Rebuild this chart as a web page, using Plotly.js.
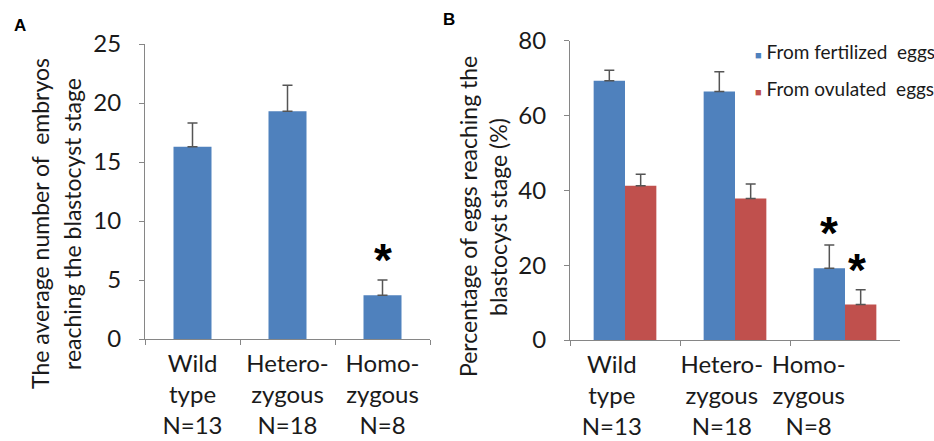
<!DOCTYPE html>
<html>
<head>
<meta charset="utf-8">
<script src="https://cdn.plot.ly/plotly-3.0.1.min.js"></script>
<style>html,body{margin:0;padding:0;background:#fff;}#chart{width:934px;height:441px;}</style>
</head>
<body>
<div id="chart"></div>
<script>
// ----- data -----
const categories = ["Wild<br>type<br>N=13", "Hetero-<br>zygous<br>N=18", "Homo-<br>zygous<br>N=8"];
const embryosMean = [16.3, 19.3, 3.7];
const embryosErr = [2.0, 2.2, 1.3];
const fertilizedMean = [69.3, 66.4, 19.2];
const fertilizedErr = [2.8, 5.3, 6.2];
const ovulatedMean = [41.2, 37.8, 9.5];
const ovulatedErr = [3.1, 3.9, 3.9];
const significantA = [false, false, true];
const significantFert = [false, false, true];
const significantOvu = [false, false, true];
const yTicksA = [0, 5, 10, 15, 20, 25];
const yTicksB = [0, 20, 40, 60, 80];
const seriesNames = ["From fertilized  eggs", "From ovulated  eggs"];
const yTitleA = ["The average number of  embryos", "reaching the blastocyst stage"];
const yTitleB = ["Percentage of eggs reaching the", "blastocyst stage (%)"];

// style: label shift (in category units) of the panel-B tick labels, as in the original figure
const labelShiftB = [-0.12, -0.12, -0.33];

const BLUE = "#4F81BD", RED = "#C0504D", AX = "#868686", TXT = "#1a1a1a";
const FONT = "Lato, Carlito, Calibri, sans-serif";

const errStyle = (arr) => ({type: "data", symmetric: false, array: arr, arrayminus: arr.map(() => 0),
  color: "#555555", thickness: 1.5, width: 5});

const traces = [
  {type: "bar", x: categories, y: embryosMean, xaxis: "x", yaxis: "y", marker: {color: BLUE},
   width: 0.4, error_y: errStyle(embryosErr), showlegend: false, hoverinfo: "y"},
  {type: "bar", x: categories, y: fertilizedMean, xaxis: "x2", yaxis: "y2", marker: {color: BLUE},
   name: seriesNames[0], offsetgroup: "f", error_y: errStyle(fertilizedErr), showlegend: false},
  {type: "bar", x: categories, y: ovulatedMean, xaxis: "x2", yaxis: "y2", marker: {color: RED},
   name: seriesNames[1], offsetgroup: "o", error_y: errStyle(ovulatedErr), showlegend: false},
  {type: "scatter", x: [], y: [], xaxis: "x3", yaxis: "y2", showlegend: false}
];

const starFont = {family: "Liberation Sans", size: 46, color: "#000"};
const annotations = [];
// asterisks
categories.forEach((c, i) => {
  if (significantA[i]) annotations.push({xref: "x", yref: "y", x: i, y: embryosMean[i] + embryosErr[i],
    text: "<b>*</b>", showarrow: false, yanchor: "bottom", yshift: -8, font: starFont});
  if (significantFert[i]) annotations.push({xref: "x2", yref: "y2", x: i - 0.143, y: fertilizedMean[i] + fertilizedErr[i],
    text: "<b>*</b>", showarrow: false, yanchor: "bottom", yshift: -16, font: starFont});
  if (significantOvu[i]) annotations.push({xref: "x2", yref: "y2", x: i + 0.105, y: ovulatedMean[i] + ovulatedErr[i],
    text: "<b>*</b>", showarrow: false, yanchor: "bottom", yshift: -8, font: starFont});
});
// axis titles (one annotation per line to match the original line spacing)
const titleFont = {family: FONT, size: 23, color: TXT};
[[yTitleA, [40, 72], 224], [yTitleB, [468, 498], 217]].forEach(([lines, xs, cy]) => {
  lines.forEach((line, k) => annotations.push({xref: "paper", yref: "paper", x: xs[k]/934, y: (441-cy)/441,
    xanchor: "center", yanchor: "middle", textangle: -90, showarrow: false, text: line, font: titleFont}));
});
// panel letters
annotations.push({xref: "paper", yref: "paper", x: 12/934, y: 1 - 14/441, xanchor: "left", yanchor: "top", showarrow: false,
  text: "<b>A</b>", font: {family: "Liberation Sans", size: 17, color: "#000"}});
annotations.push({xref: "paper", yref: "paper", x: 441/934, y: 1 - 8/441, xanchor: "left", yanchor: "top", showarrow: false,
  text: "<b>B</b>", font: {family: "Liberation Sans", size: 17, color: "#000"}});
// legend
[[seriesNames[0], BLUE, 51], [seriesNames[1], RED, 88]].forEach(([name, col, py]) => {
  annotations.push({xref: "paper", yref: "paper", x: 753/934, y: (441-py)/441, xanchor: "left", yanchor: "middle", showarrow: false,
    text: "<span style='color:" + col + ";font-size:11px'>■</span> " + name, font: {family: FONT, size: 19, color: TXT}});
});

const yAxisCommon = {showgrid: false, zeroline: false, showline: true, linecolor: AX, linewidth: 1,
  ticks: "outside", ticklen: 5, tickcolor: AX, tickfont: {family: FONT, size: 24, color: TXT}, ticklabelstandoff: 13, fixedrange: true};
const xAxisCommon = {showgrid: false, zeroline: false, showline: true, linecolor: AX, linewidth: 1,
  ticks: "outside", ticklen: 5, tickcolor: AX, tickson: "boundaries", tickfont: {family: FONT, size: 24, color: TXT},
  ticklabelstandoff: 3, fixedrange: true};

const layout = {
  width: 934, height: 441, margin: {l: 0, r: 0, t: 0, b: 0}, paper_bgcolor: "#fff", plot_bgcolor: "#fff",
  font: {family: FONT, color: TXT},
  barmode: "group", bargap: 0.43, bargroupgap: 0,
  xaxis: Object.assign({}, xAxisCommon, {domain: [145/934, 430/934], anchor: "y"}),
  yaxis: Object.assign({}, yAxisCommon, {domain: [(441-339)/441, (441-44)/441], range: [0, 25], tickvals: yTicksA, anchor: "x"}),
  xaxis2: Object.assign({}, xAxisCommon, {domain: [570/934, 900/934], anchor: "y2", showticklabels: false}),
  xaxis3: {overlaying: "x2", anchor: "y2", type: "linear", range: [-0.5, categories.length - 0.5],
    showgrid: false, zeroline: false, showline: false, ticks: "", tickfont: {family: FONT, size: 24, color: TXT},
    ticklabelstandoff: 8, tickvals: categories.map((c, i) => i + labelShiftB[i]), ticktext: categories, fixedrange: true},
  yaxis2: Object.assign({}, yAxisCommon, {domain: [(441-340)/441, (441-40.7)/441], range: [0, 80], tickvals: yTicksB, anchor: "x2"}),
  annotations: annotations
};

Plotly.newPlot("chart", traces, layout, {displayModeBar: false, staticPlot: true});
</script>
</body>
</html>
